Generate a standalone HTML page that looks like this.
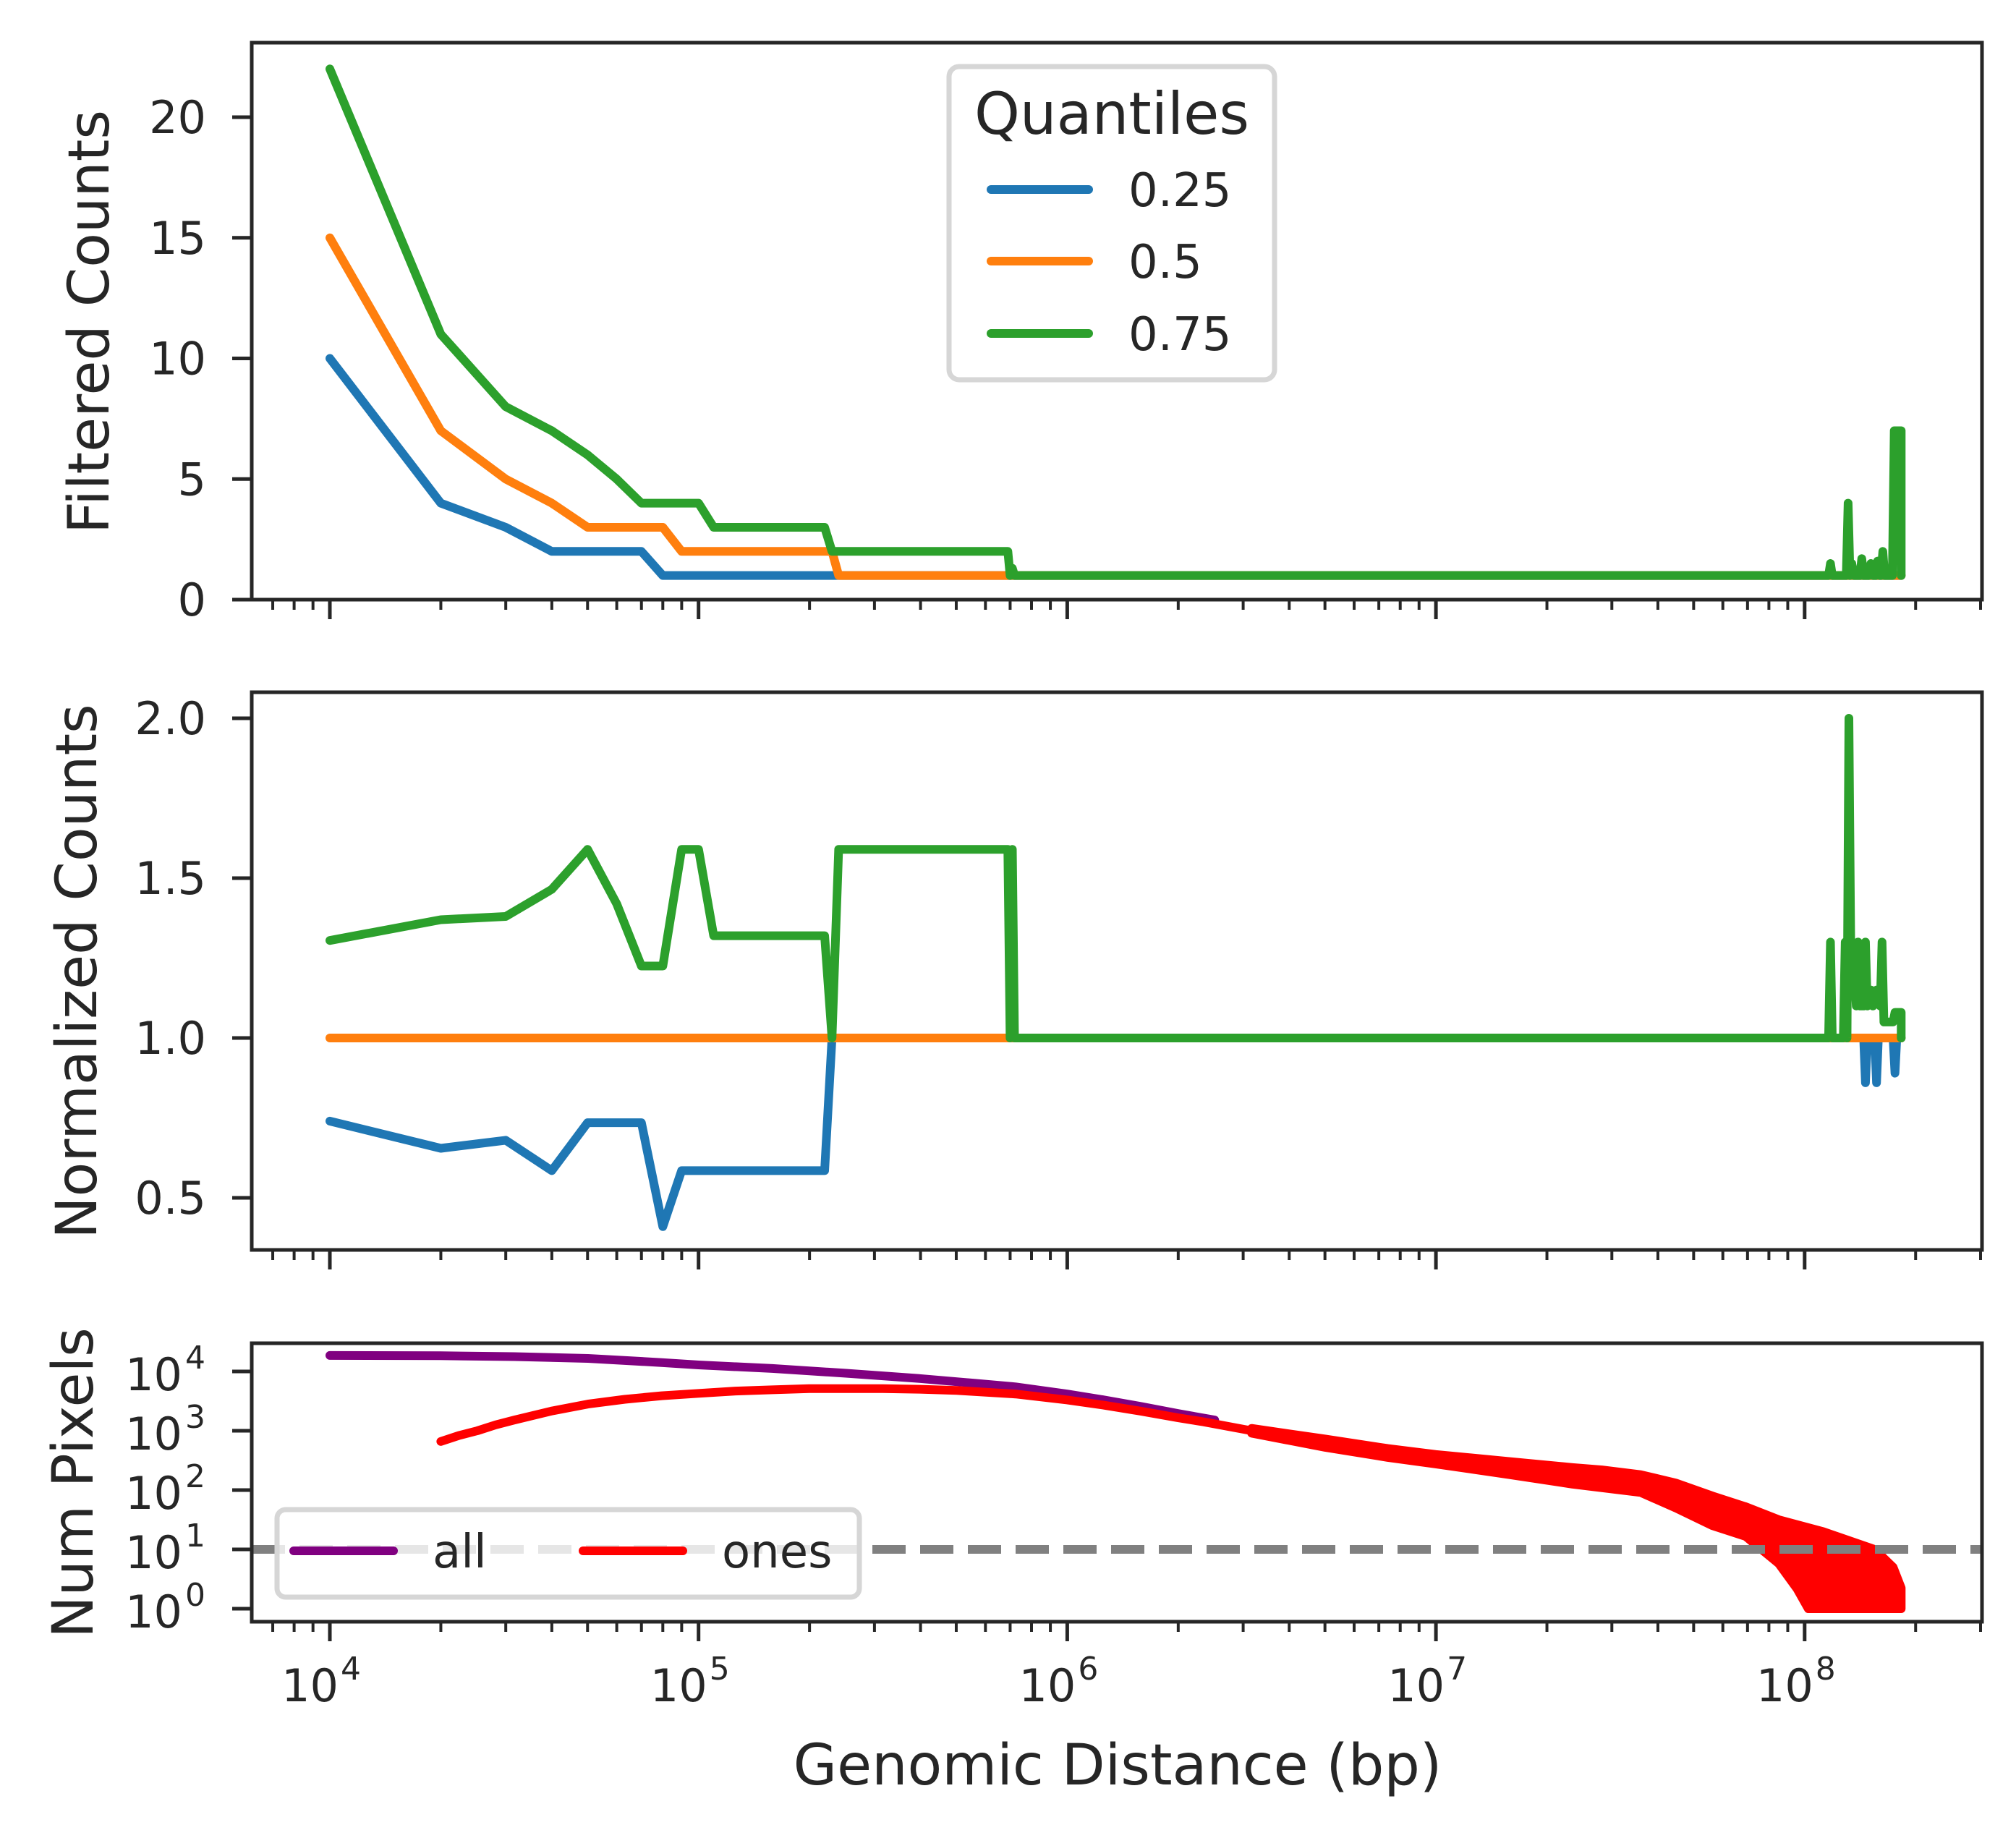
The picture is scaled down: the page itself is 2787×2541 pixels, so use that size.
<!DOCTYPE html>
<html><head><meta charset="utf-8">
<style>
html,body{margin:0;padding:0;background:#fff;}
svg{display:block;}
text{font-family:"DejaVu Sans","Liberation Sans",sans-serif;fill:#262626;}
</style></head>
<body>
<svg id="fig" xmlns="http://www.w3.org/2000/svg" width="2787" height="2541" viewBox="0 0 2787 2541">
<rect width="2787" height="2541" fill="#fff"/>
</svg>
<script>
// ---------- data (x in log10 bp) ----------
const q25Filtered = [[4,10],[4.301,4],[4.477,3],[4.602,2],[4.845,2],[4.903,1],[8.262,1]];
const q50Filtered = [[4,15],[4.301,7],[4.477,5],[4.602,4],[4.699,3],[4.903,3],[4.954,2],[5.362,2],[5.380,1],[8.262,1]];
const q75Filtered = [[4,22],[4.301,11],[4.477,8],[4.602,7],[4.699,6],[4.778,5],[4.845,4],[5.0,4],[5.041,3],[5.342,3],[5.362,2],[5.839,2],[5.845,1],[5.851,1.3],[5.857,1],
 [8.065,1],[8.07,1.5],[8.075,1],[8.113,1],[8.118,4],[8.123,1],[8.128,1.5],[8.133,1],[8.15,1],[8.155,1.7],[8.16,1],[8.175,1],[8.18,1.5],[8.185,1],[8.193,1],[8.198,1.6],[8.203,1],[8.207,1],[8.212,2],[8.217,1],[8.238,1],[8.243,7],[8.262,7],[8.262,1]];
const q25Norm = [[4,0.74],[4.301,0.655],[4.477,0.68],[4.602,0.585],[4.699,0.735],[4.845,0.735],[4.903,0.41],[4.954,0.585],[5.342,0.585],[5.362,1.0],[8.16,1],[8.165,0.86],[8.17,1],[8.19,1],[8.195,0.86],[8.2,1],[8.24,1],[8.245,0.89],[8.25,1],[8.262,1]];
const q50Norm = [[4,1],[5.839,1],[8.262,1]];
const q75Norm = [[4,1.305],[4.301,1.37],[4.477,1.38],[4.602,1.465],[4.699,1.59],[4.778,1.42],[4.845,1.225],[4.903,1.225],[4.954,1.59],[5.0,1.59],[5.041,1.32],[5.342,1.32],[5.362,1.0],[5.380,1.59],[5.839,1.59],[5.845,1.0],[5.851,1.59],[5.857,1.0],
 [8.065,1],[8.07,1.3],[8.075,1],[8.105,1],[8.11,1.3],[8.115,1],[8.12,2.0],[8.125,1.3],[8.13,1.3],[8.14,1.1],[8.145,1.3],[8.15,1.1],[8.16,1.1],[8.165,1.3],[8.17,1.1],[8.18,1.15],[8.185,1.1],[8.195,1.15],[8.205,1.1],[8.21,1.3],[8.215,1.05],[8.24,1.05],[8.245,1.08],[8.262,1.08],[8.262,1]];
const allPixels = [[4,4.27],[4.3,4.265],[4.5,4.25],[4.7,4.22],[4.9,4.15],[5,4.11],[5.2,4.05],[5.4,3.97],[5.6,3.88],[5.75,3.8],[5.86,3.74],[6.0,3.62],[6.1,3.52],[6.2,3.41],[6.3,3.29],[6.4,3.18]];
const onesPixels = [[4.301,2.82],[4.35,2.92],[4.4,3.0],[4.45,3.1],[4.5,3.18],[4.6,3.33],[4.7,3.45],[4.8,3.53],[4.9,3.59],[5,3.63],[5.1,3.67],[5.2,3.69],[5.3,3.71],[5.4,3.71],[5.5,3.71],[5.6,3.70],[5.7,3.68],[5.86,3.62],[6.0,3.52],[6.1,3.43],[6.2,3.33],[6.3,3.22],[6.37,3.15],[6.5,3.0]];
const onesUpper = [[6.5,3.04],[6.7,2.86],[6.87,2.70],[7.0,2.60],[7.2,2.48],[7.37,2.38],[7.45,2.34],[7.555,2.26],[7.65,2.12],[7.75,1.90],[7.84,1.72],[7.93,1.50],[8.05,1.30],[8.19,1.0],[8.24,0.7],[8.262,0.35],[8.262,0]];
const onesLower = [[6.5,2.96],[6.7,2.72],[6.87,2.55],[7.0,2.44],[7.2,2.26],[7.37,2.10],[7.555,1.96],[7.65,1.70],[7.75,1.40],[7.84,1.22],[7.93,0.76],[7.98,0.33],[8.01,0],[8.262,0]];
const yTicks1 = [0,5,10,15,20];
const yTicks2 = [0.5,1.0,1.5,2.0];
const yTicks3 = [0,1,2,3,4];
const xTicks = [4,5,6,7,8];
const threshold = 1;

// ---------- axes ----------
const NS='http://www.w3.org/2000/svg';
const svg=document.getElementById('fig');
const L=348,R=2740;
function sx(lx){return 456+(lx-4)*509.7;}
const P=[
 {top:59,bot:829,y:v=>829-v*33.35},
 {top:957,bot:1728,y:v=>1435-(v-1)*442},
 {top:1857,bot:2242,y:v=>2224-v*82}
];
function el(tag,attrs,parent){const e=document.createElementNS(NS,tag);for(const k in attrs)e.setAttribute(k,attrs[k]);(parent||svg).appendChild(e);return e;}
function pts(arr,p){return arr.map(d=>sx(d[0]).toFixed(1)+','+p.y(d[1]).toFixed(1)).join(' ');}

const clips=el('defs',{});
P.forEach((p,i)=>{const c=el('clipPath',{id:'clip'+i},clips);el('rect',{x:L,y:p.top,width:R-L,height:p.bot-p.top},c);});

function line(arr,pi,color,name){
 const e=el('polyline',{points:pts(arr,P[pi]),fill:'none',stroke:color,'stroke-width':12,'stroke-linejoin':'round','stroke-linecap':'round','clip-path':'url(#clip'+pi+')'});
 
 
 return e;
}

// x ticks for each panel
P.forEach((p,i)=>{
 const g=el('g',{});
 
 
 for(let d=3;d<=8;d++){
  for(let m=1;m<=9;m++){
   const lx=d+Math.log10(m); const x=sx(lx);
   if(x<L-1||x>R+1) continue;
   const major=(m===1);
   el('line',{x1:x,x2:x,y1:p.bot,y2:p.bot+(major?27:14),stroke:'#262626','stroke-width':major?5:4},g);
  }
 }
});

// y ticks + labels
function yt(pi,ticks,fmt){
 const p=P[pi];
 const g=el('g',{});
 
 
 ticks.forEach(v=>{
  const y=p.y(v);
  el('line',{x1:L-27,x2:L,y1:y,y2:y,stroke:'#262626','stroke-width':5},g);
  fmt(g,v,y);
 });
}
yt(0,yTicks1,(g,v,y)=>{const t=el('text',{x:285,y:y+22,'text-anchor':'end','font-size':62},g);t.textContent=String(v);});
yt(1,yTicks2,(g,v,y)=>{const t=el('text',{x:285,y:y+22,'text-anchor':'end','font-size':62},g);t.textContent=v.toFixed(1);});
yt(2,yTicks3,(g,v,y)=>{const t=el('text',{x:252,y:y+26,'text-anchor':'end','font-size':62},g);t.textContent='10';
 const s=el('text',{x:256,y:y-4,'text-anchor':'start','font-size':44},g);s.textContent=String(v);});

// x tick labels (bottom panel)
const xl=el('g',{});


xTicks.forEach(d=>{const x=sx(d);
 const t=el('text',{x:x+12,y:2352,'text-anchor':'end','font-size':62},xl);t.textContent='10';
 const s=el('text',{x:x+15,y:2322,'font-size':44},xl);s.textContent=String(d);});

// series
line(q25Filtered,0,'#1f77b4','q25-filtered-line');
line(q50Filtered,0,'#ff7f0e','q50-filtered-line');
line(q75Filtered,0,'#2ca02c','q75-filtered-line');
line(q25Norm,1,'#1f77b4','q25-normalized-line');
line(q50Norm,1,'#ff7f0e','q50-normalized-line');
line(q75Norm,1,'#2ca02c','q75-normalized-line');
line(allPixels,2,'#800080','all-pixels-line');
line(onesPixels,2,'#ff0000','ones-pixels-line');
const band=el('polygon',{points:pts(onesUpper.concat(onesLower.slice().reverse()),P[2]),fill:'#ff0000',stroke:'#ff0000','stroke-width':12,'stroke-linejoin':'round','clip-path':'url(#clip2)'});


const thr=el('line',{x1:L,x2:R,y1:P[2].y(threshold),y2:P[2].y(threshold),stroke:'#808080','stroke-width':12,'stroke-dasharray':'46 20'});



// spines
P.forEach((p,i)=>{const r=el('rect',{x:L,y:p.top,width:R-L,height:p.bot-p.top,fill:'none',stroke:'#262626','stroke-width':5});
 
 });
</script>

<svg style="position:absolute;left:0;top:0" width="2787" height="2541" viewBox="0 0 2787 2541">
<text transform="translate(150,445) rotate(-90)" text-anchor="middle" font-size="78">Filtered Counts</text>
<text transform="translate(133,1343) rotate(-90)" text-anchor="middle" font-size="78">Normalized Counts</text>
<text transform="translate(128,2050) rotate(-90)" text-anchor="middle" font-size="78">Num Pixels</text>
<text x="1545" y="2467" text-anchor="middle" font-size="78">Genomic Distance (bp)</text>

<g>
<rect x="1312" y="92" width="450" height="433" rx="14" fill="#fff" fill-opacity="0.8" stroke="#d6d6d6" stroke-width="7"/>
<text x="1537" y="185" text-anchor="middle" font-size="80">Quantiles</text>
<line x1="1370" x2="1505" y1="262" y2="262" stroke="#1f77b4" stroke-width="12" stroke-linecap="round"/>
<text x="1560" y="285" font-size="64">0.25</text>
<line x1="1370" x2="1505" y1="361" y2="361" stroke="#ff7f0e" stroke-width="12" stroke-linecap="round"/>
<text x="1560" y="384" font-size="64">0.5</text>
<line x1="1370" x2="1505" y1="461" y2="461" stroke="#2ca02c" stroke-width="12" stroke-linecap="round"/>
<text x="1560" y="484" font-size="64">0.75</text>
</g>

<g>
<rect x="383" y="2087" width="805" height="121" rx="12" fill="#fff" fill-opacity="0.8" stroke="#d6d6d6" stroke-width="7"/>
<line x1="406" x2="544" y1="2144" y2="2144" stroke="#800080" stroke-width="12" stroke-linecap="round"/>
<text x="598" y="2167" font-size="64">all</text>
<line x1="806" x2="944" y1="2144" y2="2144" stroke="#ff0000" stroke-width="12" stroke-linecap="round"/>
<text x="998" y="2167" font-size="64">ones</text>
</g>
</svg>
</body></html>
